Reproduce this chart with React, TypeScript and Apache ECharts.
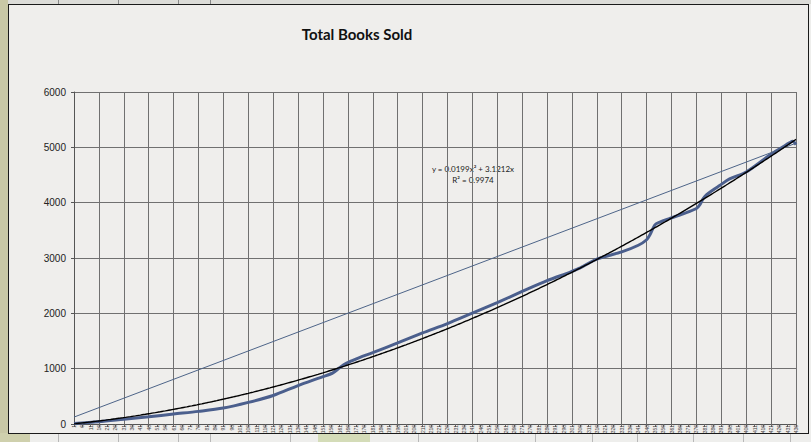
import React, { useEffect, useRef } from "react";
import * as echarts from "echarts";

// ---- data ----
const TITLE = "Total Books Sold";
const EQUATION_LINES = ["y = 0.0199x² + 3.1212x", "R² = 0.9974"];
const DAY_COUNT = 436;
const Y_MIN = 0;
const Y_MAX = 6000;
const Y_STEP = 1000;

// cumulative books sold, read at sampled day indexes
const soldDayIndex = [
  0, 15, 30, 45, 60, 75, 90, 105, 120, 135, 150, 156, 160, 164, 168, 172, 180,
  195, 210, 225, 240, 255, 270, 285, 299, 305, 315, 330, 340, 345, 347, 350,
  353, 359, 367, 375, 377, 379, 381, 385, 389, 395, 405, 419, 427, 431, 433, 435,
];
const soldValues = [
  10, 40, 85, 130, 180, 228, 288, 390, 515, 695, 855, 925, 1015, 1095, 1150,
  1200, 1290, 1465, 1645, 1815, 2005, 2195, 2395, 2590, 2745, 2820, 2980, 3110,
  3230, 3330, 3420, 3600, 3650, 3715, 3800, 3895, 3960, 4070, 4140, 4230, 4310,
  4430, 4555, 4855, 5005, 5080, 5110, 5050,
];
// straight reference line: value at first day and at last day
const targetLine = [125, 5075];
// Excel polynomial trendline coefficients (x², x)
const trendCoefficients = [0.0199, 3.1212];

function buildDays(): string[] {
  const out: string[] = [];
  for (let i = 0; i < DAY_COUNT; i++) out.push(String(i + 1));
  return out;
}

export default function App() {
  const ref = useRef<HTMLDivElement>(null);

  useEffect(() => {
    document.body.style.margin = "0";
    if (!ref.current) return;
    const chart = echarts.init(ref.current, undefined, { renderer: "svg" });

    const categories = buildDays();
    const sold: (number | null)[] = new Array(DAY_COUNT).fill(null);
    soldDayIndex.forEach((idx, k) => {
      sold[idx] = soldValues[k];
    });
    const target: (number | null)[] = new Array(DAY_COUNT).fill(null);
    target[0] = targetLine[0];
    target[DAY_COUNT - 1] = targetLine[1];
    const trend = categories.map((_, i) => {
      const x = i + 1;
      return trendCoefficients[0] * x * x + trendCoefficients[1] * x;
    });

    const gridColor = "#707070";

    chart.setOption({
      animation: false,
      backgroundColor: "#efeeec",
      grid: {
        left: 65,
        top: 87,
        right: 12,
        bottom: 9,
        containLabel: false,
        outerBoundsMode: "none",
      },
      graphic: [
        {
          type: "text",
          x: 348,
          y: 29,
          style: {
            text: TITLE,
            font: "bold 15px Lato",
            fill: "#111",
            textAlign: "center",
            textVerticalAlign: "middle",
          },
        },
        {
          type: "text",
          x: 464,
          y: 164,
          style: {
            text: EQUATION_LINES[0],
            font: "8px Lato",
            fill: "#222",
            textAlign: "center",
            textVerticalAlign: "middle",
          },
        },
        {
          type: "text",
          x: 464,
          y: 175,
          style: {
            text: EQUATION_LINES[1],
            font: "8px Lato",
            fill: "#222",
            textAlign: "center",
            textVerticalAlign: "middle",
          },
        },
      ],
      xAxis: {
        type: "category",
        data: categories,
        boundaryGap: false,
        axisLine: { show: true, lineStyle: { color: "#555", width: 1 } },
        axisTick: { show: true, interval: 4, length: 3, lineStyle: { color: "#666" } },
        axisLabel: {
          interval: 4,
          rotate: 90,
          fontSize: 5,
          fontFamily: "Liberation Sans",
          color: "#444",
          margin: 1,
          hideOverlap: false,
        },
        splitLine: { show: true, interval: 14, lineStyle: { color: gridColor, width: 1 } },
      },
      yAxis: {
        type: "value",
        min: Y_MIN,
        max: Y_MAX,
        interval: Y_STEP,
        axisLine: { show: true, lineStyle: { color: "#555", width: 1 } },
        axisTick: { show: true, length: 3, lineStyle: { color: "#555" } },
        axisLabel: {
          fontSize: 10,
          fontFamily: "Liberation Sans",
          color: "#222",
          margin: 8,
          formatter: (v: number) => String(v),
        },
        splitLine: { show: true, lineStyle: { color: gridColor, width: 1 } },
      },
      series: [
        {
          name: "Total Books Sold",
          type: "line",
          data: sold,
          connectNulls: true,
          showSymbol: false,
          smooth: 0.3,
          lineStyle: { color: "#4b5f8d", width: 3 },
          z: 2,
        },
        {
          name: "Target",
          type: "line",
          data: target,
          connectNulls: true,
          showSymbol: false,
          lineStyle: { color: "#4d6488", width: 1 },
          z: 3,
        },
        {
          name: "Poly. (Total Books Sold)",
          type: "line",
          data: trend,
          showSymbol: false,
          lineStyle: { color: "#000", width: 1.4 },
          z: 4,
        },
      ],
    });

    return () => chart.dispose();
  }, []);

  const cellLinesBottom = [58, 118, 178, 210, 290, 418, 477, 535, 592, 637, 693, 743, 790];
  const cellLinesTop = [58, 118, 178, 210];

  return (
    <div
      style={{
        position: "relative",
        width: 811,
        height: 442,
        overflow: "hidden",
        background: "#eeeeec",
      }}
    >
      {/* top strip */}
      <div style={{ position: "absolute", left: 0, top: 0, width: 811, height: 4, background: "#dcdcd8" }} />
      {cellLinesTop.map((x) => (
        <div key={"t" + x} style={{ position: "absolute", left: x, top: 0, width: 1, height: 4, background: "#888" }} />
      ))}
      {/* left olive strip */}
      <div style={{ position: "absolute", left: 0, top: 0, width: 8, height: 442, background: "#c9c8a6" }} />
      {/* bottom cell area */}
      <div style={{ position: "absolute", left: 0, top: 433, width: 30, height: 9, background: "#cfd0ad" }} />
      <div style={{ position: "absolute", left: 318, top: 433, width: 52, height: 9, background: "#d4dcb8" }} />
      {cellLinesBottom.map((x) => (
        <div key={"b" + x} style={{ position: "absolute", left: x, top: 433, width: 1, height: 9, background: "#b8b8b8" }} />
      ))}
      {/* chart frame */}
      <div
        style={{
          position: "absolute",
          left: 8,
          top: 4,
          width: 799,
          height: 428,
          border: "1px solid #1a1a1a",
          background: "#efeeec",
        }}
      />
      <div
        ref={ref}
        style={{ position: "absolute", left: 9, top: 5, width: 799, height: 428, overflow: "hidden" }}
      />
    </div>
  );
}
